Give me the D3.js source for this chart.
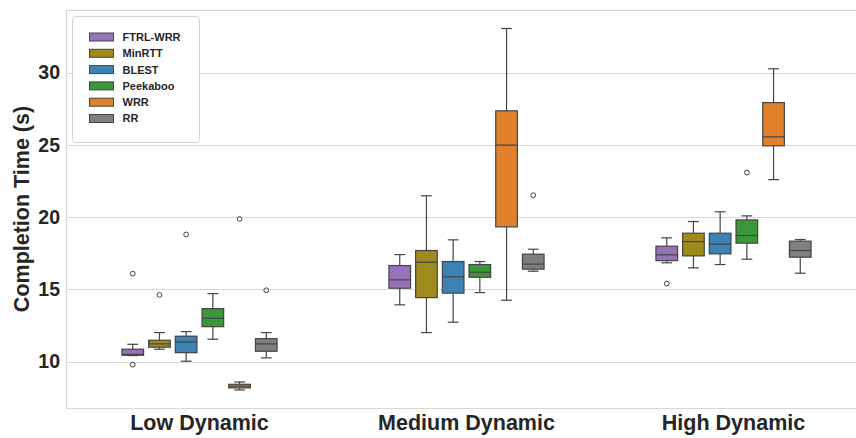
<!DOCTYPE html>
<html>
<head>
<meta charset="utf-8">
<script src="https://cdn.jsdelivr.net/npm/d3@7"></script>
<style>
  html, body { margin: 0; padding: 0; background: #fff; overflow: hidden; }
  svg { display: block; font-family: "Liberation Sans", Arial, sans-serif; }
</style>
</head>
<body>
<svg id="chart" width="856" height="438"></svg>
<script>
// Scenario groups on the x axis
const scenarios = ["Low Dynamic", "Medium Dynamic", "High Dynamic"];
// Schedulers (hue order)
const schedulers = ["FTRL-WRR", "MinRTT", "BLEST", "Peekaboo", "WRR", "RR"];
const schedulerColors = ["#9872b7", "#9f8a1e", "#3c82b4", "#3a983a", "#e1812c", "#7f7f7f"];
const yTicks = [10, 15, 20, 25, 30];

// Box statistics per scenario: [lower whisker, Q1, median, Q3, upper whisker]
const ftrlWrr  = [[10.42, 10.44, 10.50, 10.86, 11.20], [13.93, 15.08, 15.66, 16.65, 17.41], [16.84, 16.99, 17.39, 17.99, 18.57]];
const minRtt   = [[10.86, 11.00, 11.23, 11.48, 12.01], [12.01, 14.43, 16.88, 17.69, 21.48], [16.49, 17.32, 18.31, 18.89, 19.70]];
const blest    = [[10.03, 10.62, 11.36, 11.76, 12.08], [12.73, 14.74, 15.87, 16.93, 18.43], [16.72, 17.46, 18.13, 18.89, 20.37]];
const peekaboo = [[11.55, 12.42, 13.00, 13.67, 14.71], [14.78, 15.84, 16.19, 16.72, 16.93], [17.09, 18.20, 18.73, 19.81, 20.09]];
const wrr      = [[8.04, 8.18, 8.30, 8.43, 8.59], [14.25, 19.33, 24.99, 27.36, 33.06], [22.60, 24.94, 25.56, 27.93, 30.27]];
const rr       = [[10.26, 10.72, 11.23, 11.59, 12.01], [16.26, 16.40, 16.75, 17.44, 17.78], [16.12, 17.23, 17.69, 18.34, 18.45]];

// Outlying runs per scenario
const ftrlWrrOutliers  = [[16.09, 9.79], [], [15.40]];
const minRttOutliers   = [[14.62], [], []];
const blestOutliers    = [[18.80], [], []];
const peekabooOutliers = [[], [], [23.09]];
const wrrOutliers      = [[19.88], [], []];
const rrOutliers       = [[14.94], [21.52], []];

const boxStats = [ftrlWrr, minRtt, blest, peekaboo, wrr, rr];
const outlierSets = [ftrlWrrOutliers, minRttOutliers, blestOutliers, peekabooOutliers, wrrOutliers, rrOutliers];

const svg = d3.select("#chart");
const plot = { left: 66, right: 867, top: 10, bottom: 408 };

const x = d3.scaleBand().domain(scenarios).range([plot.left, plot.right]).padding(0);
const hueSpan = x.bandwidth() * 0.6;
const xHue = d3.scaleBand().domain(schedulers).range([-hueSpan / 2, hueSpan / 2]).padding(0);
const boxW = xHue.bandwidth() * 0.81;
const y = d3.scaleLinear().domain([6.79, 34.34]).range([plot.bottom, plot.top]);

const lineColor = "#444444";
const gridColor = "#d9d9d9";

// Horizontal grid
svg.append("g")
  .selectAll("line")
  .data(yTicks)
  .join("line")
  .attr("x1", plot.left).attr("x2", plot.right)
  .attr("y1", d => Math.round(y(d)) + 0.5).attr("y2", d => Math.round(y(d)) + 0.5)
  .attr("stroke", gridColor).attr("stroke-width", 1.2);

// Frame
svg.append("rect")
  .attr("x", plot.left + 0.5).attr("y", plot.top + 0.5)
  .attr("width", plot.right - plot.left).attr("height", plot.bottom - plot.top)
  .attr("fill", "none").attr("stroke", gridColor).attr("stroke-width", 1.2);

// Y axis
const yAxis = d3.axisLeft(y).tickValues(yTicks).tickSize(0).tickPadding(6).tickFormat(d3.format("d"));
const yAxisG = svg.append("g").attr("transform", `translate(${plot.left},0)`).call(yAxis);
yAxisG.select(".domain").remove();
yAxisG.selectAll("text")
  .attr("font-size", 19.5).attr("font-weight", "bold").attr("fill", "#262626")
  .attr("font-family", "Liberation Sans, Arial, sans-serif");

// X axis
const xAxis = d3.axisBottom(x).tickSize(0).tickPadding(7);
const xAxisG = svg.append("g").attr("transform", `translate(0,${plot.bottom})`).call(xAxis);
xAxisG.select(".domain").remove();
xAxisG.selectAll("text")
  .attr("font-size", 21.5).attr("font-weight", "bold").attr("fill", "#262626")
  .attr("font-family", "Liberation Sans, Arial, sans-serif");

// Y axis title
svg.append("text")
  .attr("transform", `translate(28.5,${(plot.top + plot.bottom) / 2}) rotate(-90)`)
  .attr("text-anchor", "middle")
  .attr("font-size", 21.5).attr("font-weight", "bold").attr("fill", "#262626")
  .text("Completion Time (s)");

// Boxes
const boxesG = svg.append("g");
schedulers.forEach((name, si) => {
  scenarios.forEach((sc, gi) => {
    const [lo, q1, med, q3, hi] = boxStats[si][gi];
    const cx = x(sc) + x.bandwidth() / 2 + xHue(name) + xHue.bandwidth() / 2;
    const g = boxesG.append("g");
    // whiskers
    g.append("line").attr("x1", cx).attr("x2", cx).attr("y1", y(q3)).attr("y2", y(hi))
      .attr("stroke", lineColor).attr("stroke-width", 1.2);
    g.append("line").attr("x1", cx).attr("x2", cx).attr("y1", y(q1)).attr("y2", y(lo))
      .attr("stroke", lineColor).attr("stroke-width", 1.2);
    // caps
    [lo, hi].forEach(v => {
      g.append("line").attr("x1", cx - boxW / 4).attr("x2", cx + boxW / 4)
        .attr("y1", y(v)).attr("y2", y(v))
        .attr("stroke", lineColor).attr("stroke-width", 1.2);
    });
    // box
    g.append("rect")
      .attr("x", cx - boxW / 2).attr("y", y(q3))
      .attr("width", boxW).attr("height", Math.max(0.5, y(q1) - y(q3)))
      .attr("fill", schedulerColors[si]).attr("stroke", lineColor).attr("stroke-width", 1.2);
    // median
    g.append("line").attr("x1", cx - boxW / 2).attr("x2", cx + boxW / 2)
      .attr("y1", y(med)).attr("y2", y(med))
      .attr("stroke", lineColor).attr("stroke-width", 1.2);
    // outliers
    g.selectAll("circle")
      .data(outlierSets[si][gi])
      .join("circle")
      .attr("cx", cx).attr("cy", d => y(d)).attr("r", 2.4)
      .attr("fill", "none").attr("stroke", lineColor).attr("stroke-width", 1);
  });
});

// Legend
const legend = svg.append("g");
legend.append("rect")
  .attr("x", 72.5).attr("y", 16.5).attr("width", 127).attr("height", 126).attr("rx", 3)
  .attr("fill", "#ffffff").attr("fill-opacity", 0.9)
  .attr("stroke", "#d4d4d4").attr("stroke-width", 1);
schedulers.forEach((name, i) => {
  const cy = 37 + i * 16.3;
  legend.append("rect")
    .attr("x", 89.5).attr("y", cy - 4).attr("width", 24).attr("height", 8)
    .attr("fill", schedulerColors[i]).attr("stroke", lineColor).attr("stroke-width", 1);
  legend.append("text")
    .attr("x", 122.5).attr("y", cy).attr("dy", "0.36em")
    .attr("font-size", 11).attr("font-weight", "bold").attr("fill", "#262626")
    .text(name);
});
</script>
</body>
</html>
